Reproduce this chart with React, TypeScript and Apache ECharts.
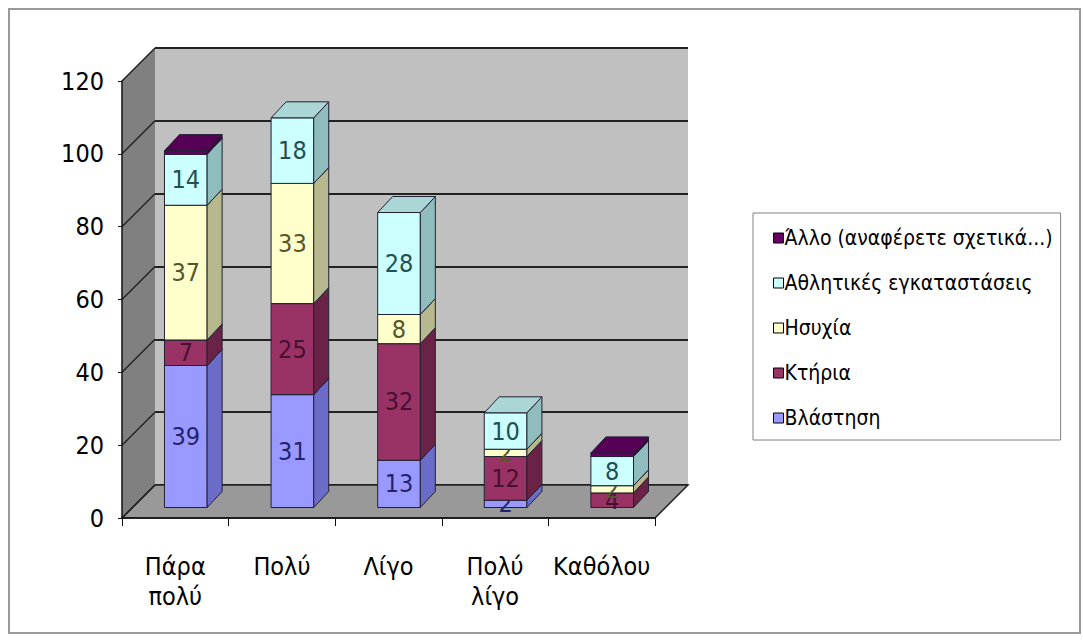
import React, { useEffect, useRef } from "react";
import * as echarts from "echarts";

const categories = ["Πάρα\nπολύ", "Πολύ", "Λίγο", "Πολύ\nλίγο", "Καθόλου"];
const seriesNames = [
  "Βλάστηση",
  "Κτήρια",
  "Ησυχία",
  "Αθλητικές εγκαταστάσεις",
  "Άλλο (αναφέρετε σχετικά...)",
];
const vlastisi = [39, 31, 13, 2, 0];
const ktiria = [7, 25, 32, 12, 4];
const isyxia = [37, 33, 8, 2, 2];
const athlitikes = [14, 18, 28, 10, 8];
const allo = [1, 0, 0, 0, 1];
const yTicks = [0, 20, 40, 60, 80, 100, 120];

const seriesValues = [vlastisi, ktiria, isyxia, athlitikes, allo];
const frontColors = ["#9999FF", "#993366", "#FFFFCC", "#CCFFFF", "#660066"];
const sideColors = ["#6b6bc8", "#6a2347", "#b8b88f", "#8fbcbc", "#440044"];
const topColors = ["#8585e0", "#7d2a53", "#d9d9ad", "#aad6d6", "#550055"];
const labelColors = ["#24246e", "#4a1030", "#55552a", "#224f4f", "#ffffff"];
const showLabel = [true, true, true, true, false];

const FONT =
  "'Liberation Sans Narrow', 'Arial Narrow', 'DejaVu Sans Condensed', 'Liberation Sans', Arial, sans-serif";

const DEPTH = 33; // wall depth in px
const BAR_OFF = 10.5; // bar front plane offset
const BAR_DEPTH_X = 15;
const BAR_DEPTH_Y = 16;

export default function App() {
  const ref = useRef<HTMLDivElement>(null);
  useEffect(() => {
    document.body.style.margin = "0";
    if (!ref.current) return;
    const chart = echarts.init(ref.current, null, { renderer: "svg" });

    const barSeries = seriesValues.map((vals, si) => {
      const data = vals.map((v, ci) => {
        let base = 0;
        for (let k = 0; k < si; k++) base += seriesValues[k][ci];
        return [ci, base, base + v, v];
      });
      return {
        type: "custom",
        name: seriesNames[si],
        xAxisIndex: 0,
        yAxisIndex: 0,
        z: 3,
        itemStyle: { color: frontColors[si] },
        data,
        renderItem: (params: any, api: any) => {
          const ci = api.value(0);
          const base = api.value(1);
          const top = api.value(2);
          const val = api.value(3);
          if (!(val > 0)) return { type: "group", children: [] };
          const p0 = api.coord([ci, base]);
          const p1 = api.coord([ci, top]);
          const band = api.size([1, 0])[0];
          const w = band * 0.4;
          const x0 = p0[0] - w / 2 + BAR_OFF;
          const x1 = x0 + w;
          const yb = p0[1] - BAR_OFF;
          const yt = p1[1] - BAR_OFF;
          const dx = BAR_DEPTH_X;
          const dy = -BAR_DEPTH_Y;
          const stroke = "#222233";
          const children: any[] = [
            {
              type: "rect",
              shape: { x: x0, y: yt, width: w, height: yb - yt },
              style: { fill: frontColors[si], stroke, lineWidth: 1 },
            },
            {
              type: "polygon",
              shape: {
                points: [
                  [x1, yb],
                  [x1, yt],
                  [x1 + dx, yt + dy],
                  [x1 + dx, yb + dy],
                ],
              },
              style: { fill: sideColors[si], stroke, lineWidth: 1 },
            },
            {
              type: "polygon",
              shape: {
                points: [
                  [x0, yt],
                  [x1, yt],
                  [x1 + dx, yt + dy],
                  [x0 + dx, yt + dy],
                ],
              },
              style: { fill: topColors[si], stroke, lineWidth: 1 },
            },
          ];
          if (showLabel[si]) {
            children.push({
              type: "text",
              style: {
                text: String(val),
                x: (x0 + x1) / 2,
                y: (yt + yb) / 2,
                align: "center",
                verticalAlign: "middle",
                fontSize: 25,
                fontFamily: FONT,
                fill: labelColors[si],
              },
            });
          }
          return { type: "group", children };
        },
      };
    });

    const wallSeries = {
      type: "custom",
      name: "walls",
      xAxisIndex: 0,
      yAxisIndex: 0,
      z: 1,
      silent: true,
      data: [[0, 0]],
      renderItem: (params: any, api: any) => {
        const cs = params.coordSys;
        const L = cs.x;
        const R = cs.x + cs.width;
        const T = cs.y;
        const B = cs.y + cs.height;
        const children: any[] = [
          {
            type: "polygon",
            shape: {
              points: [
                [L, B],
                [L, T],
                [L + DEPTH, T - DEPTH],
                [L + DEPTH, B - DEPTH],
              ],
            },
            style: { fill: "#808080" },
          },
          {
            type: "polygon",
            shape: {
              points: [
                [L, B],
                [R, B],
                [R + DEPTH, B - DEPTH],
                [L + DEPTH, B - DEPTH],
              ],
            },
            style: { fill: "#999999", stroke: "#222222", lineWidth: 1.5 },
          },
        ];
        yTicks.forEach((v) => {
          const y = api.coord([0, v])[1];
          children.push({
            type: "line",
            shape: { x1: L, y1: y, x2: L + DEPTH, y2: y - DEPTH },
            style: { stroke: "#222222", lineWidth: 1.5 },
          });
        });
        return { type: "group", children };
      },
    };

    const option: any = {
      animation: false,
      backgroundColor: "#ffffff",
      graphic: [
        {
          type: "rect",
          shape: { x: 9, y: 9, width: 1071, height: 624 },
          style: { fill: "none", stroke: "#999999", lineWidth: 2 },
          z: 0,
        },
      ],
      legend: {
        orient: "vertical",
        left: 753,
        top: 213,
        padding: [11, 8, 8, 20],
        borderColor: "#808080",
        borderWidth: 1,
        backgroundColor: "#ffffff",
        itemWidth: 10,
        itemHeight: 10,
        itemGap: 17,
        icon: "rect",
        itemStyle: { borderColor: "#000000", borderWidth: 1 },
        textStyle: {
          fontSize: 21,
          fontFamily: FONT,
          color: "#000000",
          lineHeight: 28,
          padding: [0, 0, 0, -4],
        },
        data: [
          seriesNames[4],
          seriesNames[3],
          seriesNames[2],
          seriesNames[1],
          seriesNames[0],
        ],
      },
      grid: [
        { left: 122, top: 81, width: 533, height: 437, show: false },
        {
          left: 155,
          top: 48,
          width: 533,
          height: 437,
          show: true,
          backgroundColor: "#c0c0c0",
          borderWidth: 0,
        },
      ],
      xAxis: [
        {
          type: "category",
          gridIndex: 0,
          data: categories,
          z: 5,
          axisLine: { show: true, lineStyle: { color: "#111111", width: 1.5 } },
          axisTick: {
            show: true,
            length: 8,
            interval: 0,
            alignWithLabel: false,
            lineStyle: { color: "#111111" },
          },
          axisLabel: {
            interval: 0,
            margin: 33,
            fontSize: 25,
            lineHeight: 30,
            fontFamily: FONT,
            color: "#000000",
          },
          splitLine: { show: false },
        },
        {
          type: "category",
          gridIndex: 1,
          data: categories,
          show: false,
        },
      ],
      yAxis: [
        {
          type: "value",
          gridIndex: 0,
          min: 0,
          max: 120,
          interval: 20,
          z: 5,
          axisLine: { show: true, lineStyle: { color: "#111111", width: 1.5 } },
          axisTick: { show: true, length: 4, lineStyle: { color: "#111111" } },
          axisLabel: {
            margin: 18,
            fontSize: 25,
            fontFamily: FONT,
            color: "#000000",
          },
          splitLine: { show: false },
        },
        {
          type: "value",
          gridIndex: 1,
          min: 0,
          max: 120,
          interval: 20,
          axisLine: { show: false },
          axisTick: { show: false },
          axisLabel: { show: false },
          splitLine: { show: true, lineStyle: { color: "#222222", width: 2 } },
        },
      ],
      series: [wallSeries, ...barSeries],
    };
    chart.setOption(option);
    return () => chart.dispose();
  }, []);
  return <div ref={ref} style={{ width: 1083, height: 640 }} />;
}
